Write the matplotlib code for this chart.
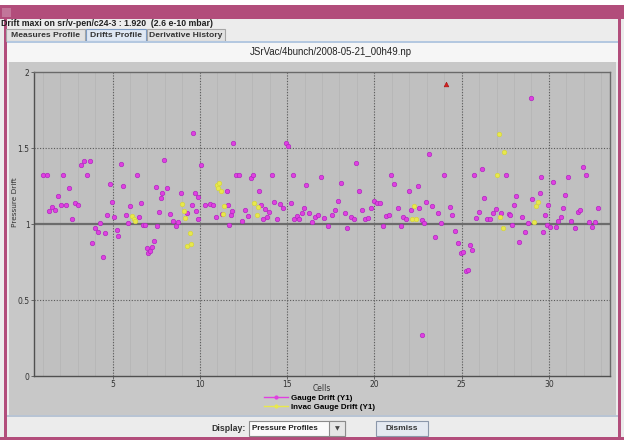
import matplotlib
matplotlib.use('Agg')
import matplotlib.pyplot as plt
from matplotlib.patches import Rectangle
from matplotlib.lines import Line2D

W, H = 624, 440

# Gauge drift (Y1), magenta points
gauge_x = [1.04, 1.23, 1.38, 1.53, 1.70, 1.87, 2.04, 2.19, 2.34, 2.51,
           2.68, 2.85, 3.02, 3.17, 3.34, 3.51, 3.68, 3.85, 4.02, 4.17,
           4.30, 4.43, 4.57, 4.70, 4.83, 4.98, 5.11, 5.23, 5.34, 5.47,
           5.62, 5.75, 5.89, 6.00, 6.40, 6.53, 6.64, 6.77, 6.85, 6.96,
           7.04, 7.13, 7.25, 7.36, 7.47, 7.57, 7.68, 7.79, 7.85, 7.92,
           8.11, 8.28, 8.45, 8.62, 8.77, 8.92, 9.25, 9.55, 9.60, 9.70,
           9.79, 9.87, 9.92, 10.06, 10.28, 10.58, 10.75, 10.92, 11.25, 11.55,
           11.62,
           11.69, 11.77, 11.85, 11.90, 12.10, 12.27, 12.40, 12.58, 12.75, 12.92,
           13.02, 13.40, 13.52, 13.63, 13.73, 13.85, 13.94, 14.12, 14.25, 14.42,
           14.60, 14.77, 14.92, 15.04, 15.21, 15.33, 15.42, 15.58, 15.67, 15.83,
           15.96, 16.10, 16.27, 16.44, 16.62, 16.79, 16.96, 17.13, 17.35, 17.56,
           17.77, 17.94, 18.10, 18.29, 18.46, 18.65, 18.81, 18.96, 19.13, 19.31,
           19.48, 19.63, 19.79, 19.96, 20.13, 20.31, 20.50, 20.65, 20.81, 20.98,
           21.15, 21.33, 21.50, 21.63, 21.81, 21.96, 22.08, 22.50, 22.58, 22.71,
           22.75, 22.87,
           22.96, 23.13, 23.32, 23.49, 23.63, 23.80, 23.97, 24.31, 24.45, 24.62,
           24.79, 24.96, 25.06, 25.23, 25.36, 25.46, 25.61, 25.71, 25.84, 25.97,
           26.15, 26.30, 26.47, 26.64, 26.81, 26.98, 27.25, 27.56, 27.69, 27.77,
           27.88, 27.98, 28.11, 28.28, 28.47, 28.63, 28.80, 28.96, 29.05, 29.47,
           29.56, 29.68, 29.77, 29.89, 29.96, 30.08, 30.25, 30.42, 30.53, 30.67,
           30.82, 30.95, 31.11, 31.28, 31.47, 31.64, 31.77, 31.95, 32.12, 32.29,
           32.46, 32.63, 32.79]
gauge_y = [1.325, 1.325, 1.087, 1.109, 1.092, 1.183, 1.127, 1.325, 1.122, 1.238,
           1.035, 1.14, 1.122, 1.39, 1.415, 1.325, 1.415, 0.873, 0.972, 0.95,
           1.004, 0.784, 0.941, 1.059, 1.264, 1.142, 1.048, 0.961, 0.921, 1.393,
           1.249, 1.059, 1.004, 1.12, 1.325, 1.044, 1.14, 0.996, 0.996, 0.84,
           0.812, 0.823, 0.847, 0.886, 1.245, 0.987, 1.081, 1.17, 1.205, 1.419,
           1.236, 1.063, 1.022, 0.987, 1.013, 1.203, 1.074, 1.122, 1.60, 1.205,
           1.085, 1.035, 1.179, 1.386, 1.127, 1.131, 1.127, 1.044, 1.066, 1.216,
           1.127,
           0.993, 1.059, 1.087, 1.533, 1.325, 1.325, 1.017, 1.092, 1.05, 1.303,
           1.323, 1.216, 1.127, 1.035, 1.096, 1.046, 1.079, 1.325, 1.142, 1.035,
           1.133, 1.105, 1.535, 1.511, 1.14, 1.325, 1.031, 1.055, 1.035, 1.074,
           1.105, 1.258, 1.074, 1.013, 1.044, 1.059, 1.308, 1.041, 0.987, 1.059,
           1.09, 1.151, 1.269, 1.07, 0.976, 1.046, 1.033, 1.404, 1.216, 1.094,
           1.031, 1.039, 1.103, 1.151, 1.14, 1.14, 0.985, 1.05, 1.057, 1.325,
           1.262, 1.105, 0.985, 1.046, 1.033, 1.214, 1.092, 1.249, 1.107, 1.028,
           0.27, 1.009,
           1.148, 1.461, 1.12, 0.917, 1.074, 1.007, 1.325, 1.111, 1.059, 0.952,
           0.878, 0.806, 0.814, 0.692, 0.697, 0.86, 0.83, 1.325, 1.039, 1.081,
           1.36, 1.17, 1.035, 1.033, 1.07, 1.1, 1.074, 1.325, 1.063, 1.059,
           0.996, 1.122, 1.181, 0.884, 1.044, 0.95, 1.009, 1.83, 1.162, 1.205,
           1.308, 0.95, 1.059, 0.996, 1.124, 0.983, 1.277, 0.983, 1.022, 1.048,
           1.105, 1.194, 1.312, 1.022, 0.976, 1.081, 1.092, 1.376, 1.325, 1.015,
           0.98, 1.015, 1.105]

# Invac gauge drift (Y1), yellow points
invac_x = [6.11, 6.21, 6.30, 9.00, 9.08, 9.17, 9.28, 9.42, 9.47, 10.98,
           11.02, 11.09, 11.19, 11.34, 11.38, 13.13, 13.25, 13.31, 22.17, 22.29,
           22.38, 27.04, 27.12, 27.19, 27.35, 27.42, 29.16, 29.26, 29.37]
invac_y = [1.055, 1.033, 1.022, 1.131, 1.087, 1.041, 0.852, 0.939, 0.869, 1.255,
           1.238, 1.27, 1.216, 1.063, 1.118, 1.14, 1.059, 1.109, 1.031, 1.116,
           1.031, 1.325, 1.59, 1.048, 0.972, 1.476, 1.015, 1.118, 1.146]

# maximum drift (sr/v-pen/c24-3)
max_x = [24.1]
max_y = [1.92]

x_ticks = [5, 10, 15, 20, 25, 30]
y_ticks = [0, 0.5, 1, 1.5, 2]

gauge_col = '#e040e0'
invac_col = '#e8e84c'
pink = '#b24d7b'

fig = plt.figure(figsize=(W / 100, H / 100), dpi=100)
fig.patch.set_facecolor('white')


def rect(x0, y0, x1, y1, fc, ec='none', lw=0, z=-5):
    fig.add_artist(Rectangle((x0 / W, 1 - y1 / H), (x1 - x0) / W, (y1 - y0) / H,
                             transform=fig.transFigure, facecolor=fc,
                             edgecolor=ec, linewidth=lw, zorder=z))


def txt(x, y, s, **kw):
    fig.text(x / W, 1 - y / H, s, **kw)


# window chrome
rect(0, 5, W, 19, pink)
rect(2, 8, 11, 17, '#c2769a')
rect(0, 19, W, 440, '#ececec')
rect(4, 19, 7, 440, pink)
rect(618, 19, 621, 440, pink)
rect(0, 437, W, 440, pink)
txt(1, 24, 'Drift maxi on sr/v-pen/c24-3 : 1.920  (2.6 e-10 mbar)',
    fontsize=6.3, fontweight='bold', family='Liberation Sans', va='center', color='#202020')

# tabs
tabs = [('Measures Profile', 6, 85), ('Drifts Profile', 86, 146), ('Derivative History', 147, 225)]
for name, a, b in tabs:
    sel = name == 'Drifts Profile'
    rect(a, 29, b, 41, '#dfe8f4' if sel else '#e2e2e2',
         ec='#7d9cc4' if sel else '#a6a6a6', lw=0.8, z=-4)
    txt((a + b) / 2, 35.5, name, fontsize=6.1, fontweight='bold',
        family='Liberation Sans', ha='center', va='center', color='#333333')
rect(7, 41, 618, 43, '#b4c8e0', z=-4)
rect(7, 43, 618, 62, '#f6f6f6', z=-4)
txt(331, 52, 'JSrVac/4bunch/2008-05-21_00h49.np', fontsize=6.9,
    family='Liberation Sans', ha='center', va='center', color='#222222')

# chart panel
rect(9, 62, 616, 415, '#c8c8c8', z=-4)
rect(7, 415, 618, 416.5, '#b8c4d4', z=-4)

# bottom bar widgets
txt(246, 428.5, 'Display:', fontsize=6.3, fontweight='bold', family='Liberation Sans',
    ha='right', va='center', color='#333333')
rect(249, 421, 345, 436, '#fbfbfb', ec='#8c8c8c', lw=0.8, z=-3)
rect(329, 421, 345, 436, '#e6e6e6', ec='#8c8c8c', lw=0.8, z=-3)
txt(252, 428.5, 'Pressure Profiles', fontsize=5.8, fontweight='bold',
    family='Liberation Sans', va='center', color='#222222')
txt(337, 428.5, '\u25bc', fontsize=4.5, ha='center', va='center', color='#444444')
rect(376, 421, 428, 436, '#e4e9f1', ec='#8b97aa', lw=0.8, z=-3)
txt(402, 428.5, 'Dismiss', fontsize=6, fontweight='bold', family='Liberation Sans',
    ha='center', va='center', color='#333333')

# plot axes
ax = fig.add_axes([34 / W, 1 - 376 / H, 576 / W, 304 / H])
ax.set_facecolor('#c0c0c0')
ax.set_xlim(0.5, 33.5)
ax.set_ylim(0, 2)

for c in range(1, 34):
    ax.axvline(c, color='#b6b6b6', lw=0.6, zorder=0)
for c in x_ticks:
    ax.axvline(c, color='#5a5a5a', lw=0.8, ls=(0, (1, 1.5)), zorder=1)
for v in (0.5, 1.5):
    ax.axhline(v, color='#5a5a5a', lw=0.8, ls=(0, (1, 1.5)), zorder=1)
ax.axhline(1, color='#6c6c6c', lw=1.6, zorder=1)

ax.plot(gauge_x, gauge_y, ls='none', marker='o', ms=3.2, mfc=gauge_col,
        mec='#b028c0', mew=0.5, zorder=3)
ax.plot(invac_x, invac_y, ls='none', marker='o', ms=3.2, mfc=invac_col,
        mec='#d6d63a', mew=0.5, zorder=3)
ax.plot(max_x, max_y, ls='none', marker='^', ms=3.4, mfc='#d82020',
        mec='#a01010', mew=0.4, zorder=4)

ax.set_xticks(x_ticks)
ax.set_xticklabels([str(t) for t in x_ticks])
ax.set_yticks(y_ticks)
ax.set_yticklabels(['0', '0.5', '1', '1.5', '2'])
ax.tick_params(labelsize=5.5, length=2, width=0.6, pad=1.2, colors='#555555',
               labelcolor='#333333')
for s in ax.spines.values():
    s.set_color('#6a6a6a')
    s.set_linewidth(1.0)
ax.spines['left'].set_color('#505050')
ax.spines['bottom'].set_color('#505050')

txt(322, 388, 'Cells', fontsize=5.5, ha='center', va='center', color='#333333')
txt(15, 202, 'Pressure Drift', fontsize=5.3, rotation=90, ha='center',
    va='center', color='#333333')

handles = [Line2D([], [], color=gauge_col, lw=1.0, marker='o', ms=2, mec=gauge_col),
           Line2D([], [], color=invac_col, lw=1.0, marker='o', ms=2, mec=invac_col)]
fig.legend(handles, ['Gauge Drift (Y1)', 'Invac Gauge Drift (Y1)'],
           loc='upper left', bbox_to_anchor=(264 / W, 1 - 394 / H),
           frameon=False, borderpad=0, borderaxespad=0, handlelength=3.0,
           handletextpad=0.3, labelspacing=0.2,
           prop={'size': 5.8, 'weight': 'bold', 'family': 'Liberation Sans'})

fig.savefig('out.png', dpi=100)
